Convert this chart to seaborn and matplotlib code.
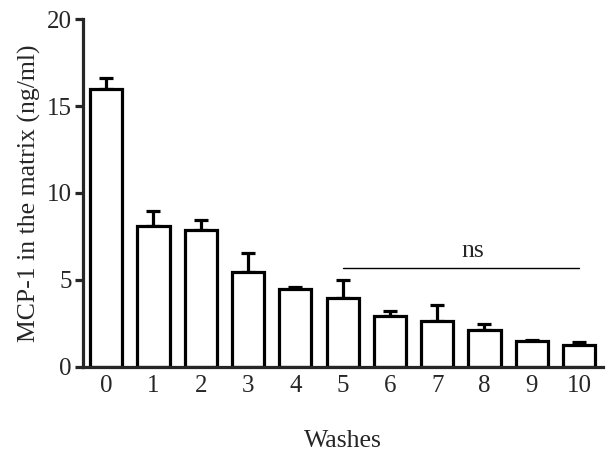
import numpy as np
import pandas as pd
import matplotlib
matplotlib.use('Agg')
import matplotlib.pyplot as plt
import seaborn as sns

washes = ['0', '1', '2', '3', '4', '5', '6', '7', '8', '9', '10']
mcp1 = [16.0, 8.08, 7.85, 5.43, 4.45, 3.95, 2.92, 2.62, 2.1, 1.48, 1.25]
sem = [0.63, 0.87, 0.58, 1.09, 0.15, 1.06, 0.26, 0.92, 0.33, 0.03, 0.15]

sns.set_style('ticks')
plt.rcParams['font.family'] = ['Liberation Serif', 'DejaVu Serif']

df = pd.DataFrame({'Washes': washes, 'MCP-1': mcp1})

fig = plt.figure(figsize=(6.15, 4.57), dpi=100)
ax = fig.add_axes([0.135, 0.198, 0.845, 0.76])

sns.barplot(x='Washes', y='MCP-1', data=df, color='white', edgecolor='black',
            linewidth=2.3, width=0.68, ax=ax, zorder=2)
x = np.arange(len(washes))
ax.errorbar(x, mcp1, yerr=[np.zeros(len(sem)), sem], fmt='none', ecolor='black',
            elinewidth=2.3, capsize=5, capthick=2.3, zorder=1)

# ns bracket over washes 5-10
ax.plot([5, 10], [5.65, 5.65], color='black', linewidth=1.0)
ax.text(7.75, 6.0, 'ns', ha='center', va='bottom', fontsize=18.5)

ax.set_xlim(-0.49, 10.5)
ax.set_ylim(0, 20)
ax.set_yticks([0, 5, 10, 15, 20])
ax.set_xlabel('Washes', fontsize=18.5, labelpad=24)
ax.set_ylabel('MCP-1 in the matrix (ng/ml)', fontsize=18.5, labelpad=4)
ax.tick_params(axis='y', labelsize=18, width=2.3, length=6, direction='out', pad=2)
ax.tick_params(axis='x', labelsize=18, length=0, pad=6)
for side in ['top', 'right']:
    ax.spines[side].set_visible(False)
for side in ['left', 'bottom']:
    ax.spines[side].set_linewidth(2.3)

fig.savefig('out.png', dpi=100)
